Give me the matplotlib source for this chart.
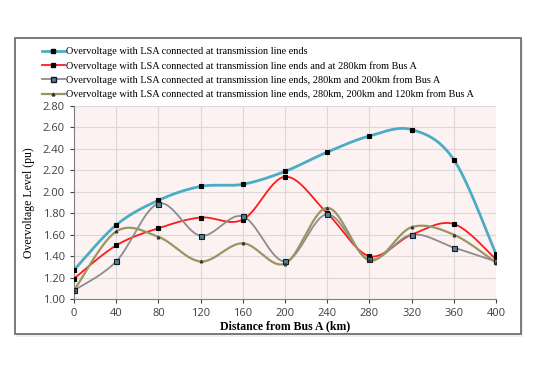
import numpy as np
import matplotlib
matplotlib.use("Agg")
import matplotlib.pyplot as plt
from matplotlib.patches import Rectangle

# Data
distance = [0, 40, 80, 120, 160, 200, 240, 280, 320, 360, 400]
lsa_ends = [1.27, 1.69, 1.92, 2.05, 2.07, 2.19, 2.37, 2.52, 2.58, 2.30, 1.42]
lsa_280 = [1.19, 1.50, 1.66, 1.76, 1.74, 2.14, 1.80, 1.40, 1.60, 1.70, 1.37]
lsa_280_200 = [1.08, 1.35, 1.89, 1.59, 1.77, 1.35, 1.79, 1.37, 1.60, 1.48, 1.35]
lsa_280_200_120 = [1.08, 1.63, 1.58, 1.35, 1.52, 1.33, 1.85, 1.36, 1.67, 1.60, 1.34]

labels = [
    "Overvoltage with LSA connected at transmission line ends",
    "Overvoltage with LSA connected at transmission line ends and at 280km from Bus A",
    "Overvoltage with LSA connected at transmission line ends, 280km and 200km from Bus A",
    "Overvoltage with LSA connected at transmission line ends, 280km, 200km and 120km from Bus A",
]


def smooth(x, y, n=30):
    # Excel-like smoothed line (Catmull-Rom through bezier segments)
    x = np.asarray(x, float)
    y = np.asarray(y, float)
    px = np.concatenate([[x[0]], x, [x[-1]]])
    py = np.concatenate([[y[0]], y, [y[-1]]])
    xs, ys = [], []
    t = np.linspace(0, 1, n)
    for i in range(1, len(px) - 2):
        p0 = np.array([px[i], py[i]])
        p3 = np.array([px[i + 1], py[i + 1]])
        p1 = p0 + (np.array([px[i + 1], py[i + 1]]) - np.array([px[i - 1], py[i - 1]])) / 6
        p2 = p3 - (np.array([px[i + 2], py[i + 2]]) - np.array([px[i], py[i]])) / 6
        b = ((1 - t) ** 3)[:, None] * p0 + (3 * (1 - t) ** 2 * t)[:, None] * p1 \
            + (3 * (1 - t) * t ** 2)[:, None] * p2 + (t ** 3)[:, None] * p3
        xs.extend(b[:, 0])
        ys.extend(b[:, 1])
    return xs, ys


fig = plt.figure(figsize=(5.38, 3.79), dpi=100)
fig.patch.set_facecolor("white")

# outer chart frame (with a faint shadow)
fig.patches.append(Rectangle((17 / 538, 1 - 337 / 379), (523 - 17) / 538, (337 - 41) / 379,
                             transform=fig.transFigure, facecolor="#eeeeee", edgecolor="none", zorder=-2))
fig.patches.append(Rectangle((15 / 538, 1 - 334 / 379), (521 - 15) / 538, (334 - 38) / 379,
                             transform=fig.transFigure, facecolor="white", edgecolor="#6f6f6f",
                             linewidth=1.3, zorder=-1))

ax = fig.add_axes([74 / 538, 1 - 299 / 379, (496 - 74) / 538, (299 - 106) / 379])
ax.set_zorder(1)
ax.set_facecolor("#fdf2f2")

styles = [
    (lsa_ends, "#4bacc6", 2.0, "s", 2.6, "black", "black"),
    (lsa_280, "#ff1a1a", 1.3, "s", 2.6, "black", "black"),
    (lsa_280_200, "#8c8c8c", 1.3, "s", 3.6, "#4f7f9a", "#1a1a1a"),
    (lsa_280_200_120, "#9c9462", 1.6, "^", 2.0, "#333333", "#333333"),
]

handles = []
for (vals, color, lw, mk, ms, mfc, mec), lab in zip(styles, labels):
    sx, sy = smooth(distance, vals)
    ax.plot(sx, sy, color=color, linewidth=lw, zorder=3)
    ax.plot(distance, vals, linestyle="none", marker=mk, markersize=ms,
            markerfacecolor=mfc, markeredgecolor=mec, markeredgewidth=0.8, zorder=4)
    h, = ax.plot([], [], color=color, linewidth=lw, marker=mk, markersize=ms,
                 markerfacecolor=mfc, markeredgecolor=mec, label=lab)
    handles.append(h)

ax.set_xlim(0, 400)
ax.set_ylim(1.0, 2.8)
ax.set_xticks(distance)
ax.set_yticks(np.arange(1.0, 2.81, 0.2))
ax.set_yticklabels([f"{v:.2f}" for v in np.arange(1.0, 2.81, 0.2)])
ax.grid(True, color="#d9d9d9", linewidth=0.8)
ax.set_axisbelow(True)
for s in ["top", "right"]:
    ax.spines[s].set_visible(False)
for s in ["left", "bottom"]:
    ax.spines[s].set_color("#7f7f7f")
    ax.spines[s].set_linewidth(0.8)
ax.tick_params(colors="#404040", labelsize=8, length=3, width=0.8)
for t in ax.get_xticklabels() + ax.get_yticklabels():
    t.set_fontfamily("Open Sans")

ax.set_xlabel("Distance from Bus A (km)", fontfamily="Liberation Serif",
              fontweight="bold", fontsize=8.5, labelpad=1)
ax.set_ylabel("Overvoltage Level (pu)", fontfamily="Liberation Serif",
              fontsize=8.5, labelpad=6)

fig.legend(handles=handles, loc="upper left", bbox_to_anchor=(38 / 538, 1 - 43 / 379),
           frameon=False, prop={"family": "Liberation Serif", "size": 7.4},
           handlelength=2.2, handletextpad=0.1, labelspacing=0.45, borderaxespad=0)

fig.savefig("out.png", dpi=100)
